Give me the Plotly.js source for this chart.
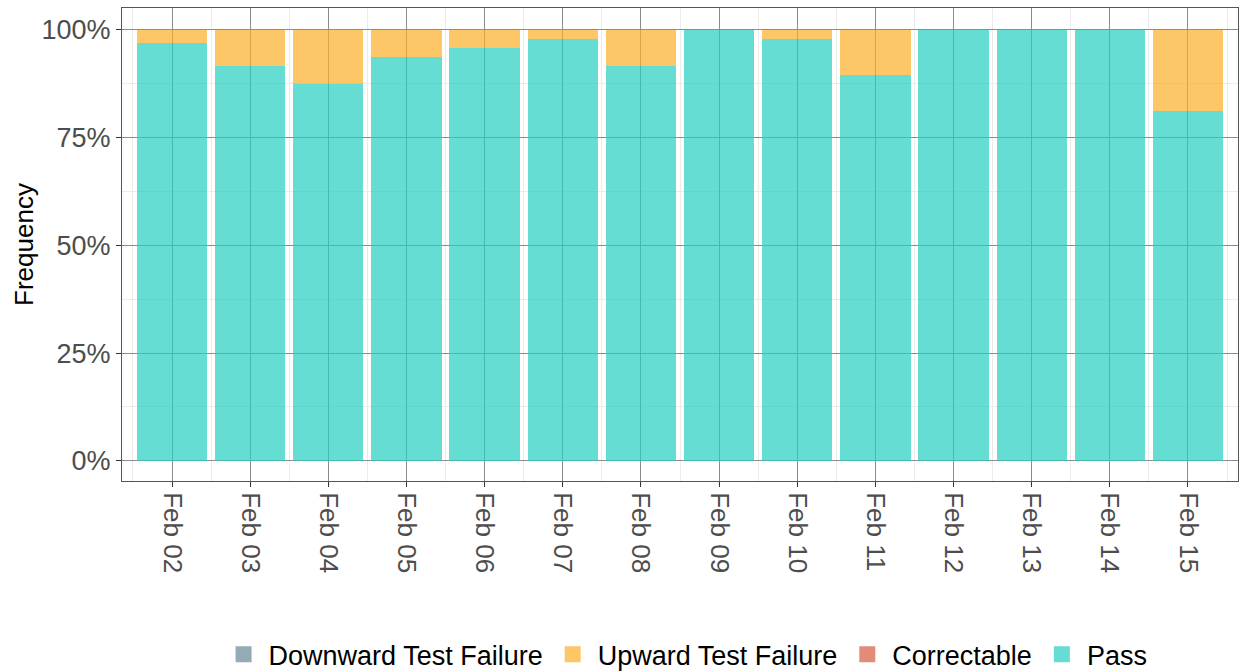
<!DOCTYPE html>
<html>
<head>
<meta charset="utf-8">
<script src="https://cdn.plot.ly/plotly-3.0.1.min.js"></script>
<style>
  html, body { margin: 0; padding: 0; background: #fff; }
  #chart { width: 1239px; height: 671px; }
</style>
</head>
<body>
<div id="chart"></div>
<script>
const dates = ["Feb 02","Feb 03","Feb 04","Feb 05","Feb 06","Feb 07","Feb 08","Feb 09","Feb 10","Feb 11","Feb 12","Feb 13","Feb 14","Feb 15"];
const pass = [0.969,0.916,0.875,0.937,0.958,0.978,0.916,1.0,0.978,0.896,1.0,1.0,1.0,0.8125];
const upward = [0.031,0.084,0.125,0.063,0.042,0.022,0.084,0.0,0.022,0.104,0.0,0.0,0.0,0.1875];
const correctable = [0,0,0,0,0,0,0,0,0,0,0,0,0,0];
const downward = [0,0,0,0,0,0,0,0,0,0,0,0,0,0];
const yTickVals = [0, 0.25, 0.5, 0.75, 1.0];
const yTickText = ["0%", "25%", "50%", "75%", "100%"];

const idx = dates.map((d, i) => i);
const font = "Liberation Sans, Arial, Helvetica, sans-serif";

const series = [
  { name: "Pass", y: pass, color: "#24CEBF" },
  { name: "Correctable", y: correctable, color: "#D65B3E" },
  { name: "Upward Test Failure", y: upward, color: "#FCAE26" },
  { name: "Downward Test Failure", y: downward, color: "#6A8695" }
];

const traces = [];
series.forEach(s => {
  traces.push({
    type: "bar", name: s.name, x: idx, y: s.y, showlegend: false,
    marker: { color: s.color, opacity: 0.7, line: { width: 0 } },
    hoverinfo: "name+y"
  });
});
// legend keys (no visible data points)
series.forEach(s => {
  traces.push({
    type: "scatter", mode: "markers", name: s.name, x: [null], y: [null],
    marker: { symbol: "square", size: 30, color: s.color, opacity: 0.7 },
    showlegend: true, hoverinfo: "skip"
  });
});

const layout = {
  width: 1239, height: 671,
  margin: { l: 122, r: 1, t: 8, b: 190, autoexpand: false },
  paper_bgcolor: "#fff", plot_bgcolor: "#fff",
  barmode: "stack", bargap: 0.1,
  font: { family: font, color: "#000" },
  showlegend: true,
  legend: {
    orientation: "h", traceorder: "reversed",
    x: 0.505, xanchor: "center", y: -0.367, yanchor: "middle",
    font: { family: font, size: 27, color: "#000" },
    itemwidth: 40, itemsizing: "trace"
  },
  xaxis: {
    type: "linear", range: [-0.64, 13.64], automargin: false,
    tickmode: "array", tickvals: idx, ticktext: dates,
    tickangle: 90,
    tickfont: { family: font, size: 26, color: "#4d4d4d" },
    ticks: "outside", ticklen: 5, tickcolor: "#333", tickwidth: 1,
    showgrid: true, gridcolor: "#8c8c8c", gridwidth: 1,
    minor: { tick0: 0.5, dtick: 1, showgrid: true, gridcolor: "#ebebeb", gridwidth: 1, ticks: "" },
    showline: true, mirror: true, linecolor: "#555", linewidth: 1,
    zeroline: false, fixedrange: true
  },
  yaxis: {
    range: [-0.047, 1.051], automargin: false,
    tickmode: "array", tickvals: yTickVals, ticktext: yTickText,
    tickfont: { family: font, size: 27, color: "#4d4d4d" },
    ticks: "outside", ticklen: 5, tickcolor: "#333", tickwidth: 1,
    showgrid: true, gridcolor: "#8c8c8c", gridwidth: 1,
    minor: { tick0: 0.125, dtick: 0.25, showgrid: true, gridcolor: "#ebebeb", gridwidth: 1, ticks: "" },
    showline: true, mirror: true, linecolor: "#555", linewidth: 1,
    zeroline: false, fixedrange: true,
    title: { text: "Frequency", font: { family: font, size: 26, color: "#000" }, standoff: 0 }
  }
};

Plotly.newPlot("chart", traces, layout, { displayModeBar: false, staticPlot: true });
</script>
</body>
</html>
